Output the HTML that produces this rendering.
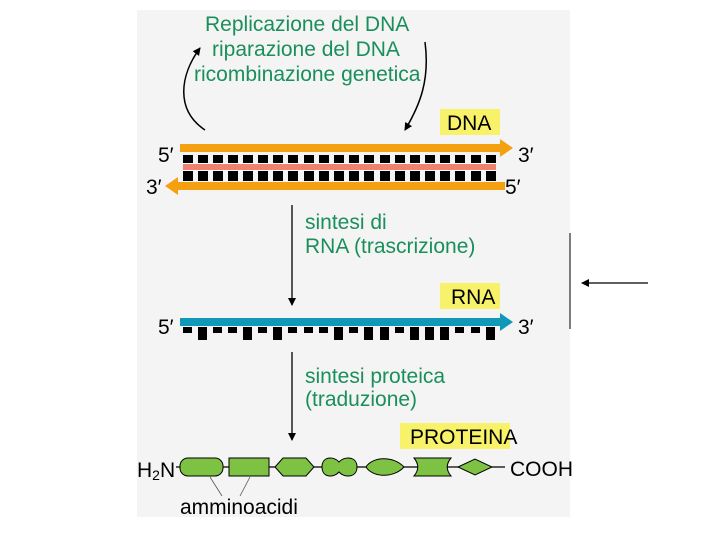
<!DOCTYPE html>
<html><head><meta charset="utf-8"><style>
body{margin:0;background:#fff;}
svg{display:block;font-family:"Liberation Sans",sans-serif;}
</style></head><body>
<svg width="720" height="540" viewBox="0 0 720 540">
<defs><marker id="ah" markerWidth="8" markerHeight="8" refX="7" refY="4" orient="auto" markerUnits="userSpaceOnUse"><path d="M0,0 L8,4 L0,8 Z" fill="#000"/></marker></defs>
<rect x="137" y="10" width="433" height="507" fill="#f4f4f4"/>
<g fill="#1a8f5c" font-size="21">
<text x="205" y="31">Replicazione del DNA</text>
<text x="212" y="56">riparazione del DNA</text>
<text x="194" y="81">ricombinazione genetica</text>
</g>
<path d="M205,130 C175,110 180,75 200,48" fill="none" stroke="#000" stroke-width="1.5" marker-end="url(#ah)"/>
<path d="M425,42 C430,80 420,105 405,130" fill="none" stroke="#000" stroke-width="1.5" marker-end="url(#ah)"/>
<rect x="440" y="109" width="60" height="26" fill="#f7f26a"/>
<text x="447" y="130" font-size="21" fill="#000">DNA</text>
<g font-size="21" fill="#000">
<text x="158" y="162">5′</text><text x="518" y="162">3′</text>
<text x="146" y="194">3′</text><text x="505" y="194">5′</text>
</g>
<g fill="#000">
<rect x="183" y="155" width="10" height="26"/><rect x="198" y="155" width="10" height="26"/><rect x="213" y="155" width="10" height="26"/><rect x="228" y="155" width="10" height="26"/><rect x="243" y="155" width="10" height="26"/><rect x="258" y="155" width="10" height="26"/><rect x="273" y="155" width="10" height="26"/><rect x="288" y="155" width="10" height="26"/><rect x="304" y="155" width="10" height="26"/><rect x="319" y="155" width="10" height="26"/><rect x="334" y="155" width="10" height="26"/><rect x="349" y="155" width="10" height="26"/><rect x="364" y="155" width="10" height="26"/><rect x="380" y="155" width="10" height="26"/><rect x="395" y="155" width="10" height="26"/><rect x="410" y="155" width="10" height="26"/><rect x="425" y="155" width="10" height="26"/><rect x="440" y="155" width="10" height="26"/><rect x="455" y="155" width="10" height="26"/><rect x="471" y="155" width="10" height="26"/><rect x="486" y="155" width="10" height="26"/>
</g>
<rect x="183" y="163" width="313" height="1" fill="#fff"/>
<rect x="183" y="164" width="313" height="6" fill="#f08070"/>
<rect x="183" y="170" width="313" height="1" fill="#fff"/>
<path d="M180,144 L500,144 L500,139 L513,148 L500,157 L500,152 L180,152 Z" fill="#f5a011"/>
<path d="M505,182 L178,182 L178,177 L165,186 L178,195 L178,190 L505,190 Z" fill="#f5a011"/>
<line x1="292" y1="205" x2="292" y2="305" stroke="#000" stroke-width="1.3" marker-end="url(#ah)"/>
<g fill="#1a8f5c" font-size="21">
<text x="305" y="229">sintesi di</text>
<text x="305" y="253">RNA (trascrizione)</text>
</g>
<rect x="440" y="283" width="60" height="26" fill="#f7f26a"/>
<text x="451" y="304" font-size="21" fill="#000">RNA</text>
<text x="158" y="334" font-size="21">5′</text><text x="518" y="334" font-size="21">3′</text>
<g fill="#000">
<rect x="183" y="327" width="9" height="6"/><rect x="198" y="327" width="9" height="13"/><rect x="213" y="327" width="9" height="6"/><rect x="228" y="327" width="9" height="6"/><rect x="243" y="327" width="9" height="13"/><rect x="258" y="327" width="9" height="6"/><rect x="273" y="327" width="9" height="13"/><rect x="288" y="327" width="9" height="6"/><rect x="304" y="327" width="9" height="6"/><rect x="319" y="327" width="9" height="6"/><rect x="334" y="327" width="9" height="13"/><rect x="349" y="327" width="9" height="6"/><rect x="364" y="327" width="9" height="13"/><rect x="380" y="327" width="9" height="13"/><rect x="395" y="327" width="9" height="6"/><rect x="410" y="327" width="9" height="13"/><rect x="425" y="327" width="9" height="13"/><rect x="440" y="327" width="9" height="13"/><rect x="455" y="327" width="9" height="6"/><rect x="471" y="327" width="9" height="6"/><rect x="486" y="327" width="9" height="13"/>
</g>
<path d="M180,318 L500,318 L500,313 L513,322 L500,331 L500,326 L180,326 Z" fill="#0f98b8"/>
<line x1="292" y1="352" x2="292" y2="440" stroke="#000" stroke-width="1.3" marker-end="url(#ah)"/>
<g fill="#1a8f5c" font-size="21">
<text x="305" y="383">sintesi proteica</text>
<text x="305" y="406">(traduzione)</text>
</g>
<rect x="400" y="423" width="110" height="26" fill="#f7f26a"/>
<text x="410" y="444" font-size="21" fill="#000">PROTEINA</text>
<text x="137" y="477" font-size="21">H<tspan font-size="14" dy="3">2</tspan><tspan dy="-3">N</tspan></text>
<line x1="176" y1="467" x2="505" y2="467" stroke="#000" stroke-width="1.3"/>
<g fill="#7dc242" stroke="#000" stroke-width="1">
<rect x="180" y="458" width="43" height="18" rx="8"/>
<rect x="229" y="458" width="40" height="18"/>
<path d="M275,467 L283,458 L306,458 L314,467 L306,476 L283,476 Z"/>
<path d="M322,467 C322,456 334,456 339,462 C344,456 357,456 357,467 C357,478 344,478 339,472 C334,478 322,478 322,467 Z"/>
<path d="M366,467 C372,457 393,455 404,467 C393,479 372,477 366,467 Z"/>
<path d="M414,458 L451,458 C446,464 446,470 451,476 L414,476 C419,470 419,464 414,458 Z"/>
<path d="M458,467 L475,459 L492,467 L475,475 Z"/>
</g>
<text x="510" y="476" font-size="21">COOH</text>
<line x1="210" y1="477" x2="222" y2="496" stroke="#555" stroke-width="0.8"/>
<line x1="250" y1="477" x2="240" y2="496" stroke="#555" stroke-width="0.8"/>
<text x="180" y="514" font-size="21">amminoacidi</text>
<line x1="570" y1="233" x2="570" y2="329" stroke="#000" stroke-width="1"/>
<line x1="648" y1="283" x2="582" y2="283" stroke="#000" stroke-width="1.3" marker-end="url(#ah)"/>
</svg>
</body></html>
